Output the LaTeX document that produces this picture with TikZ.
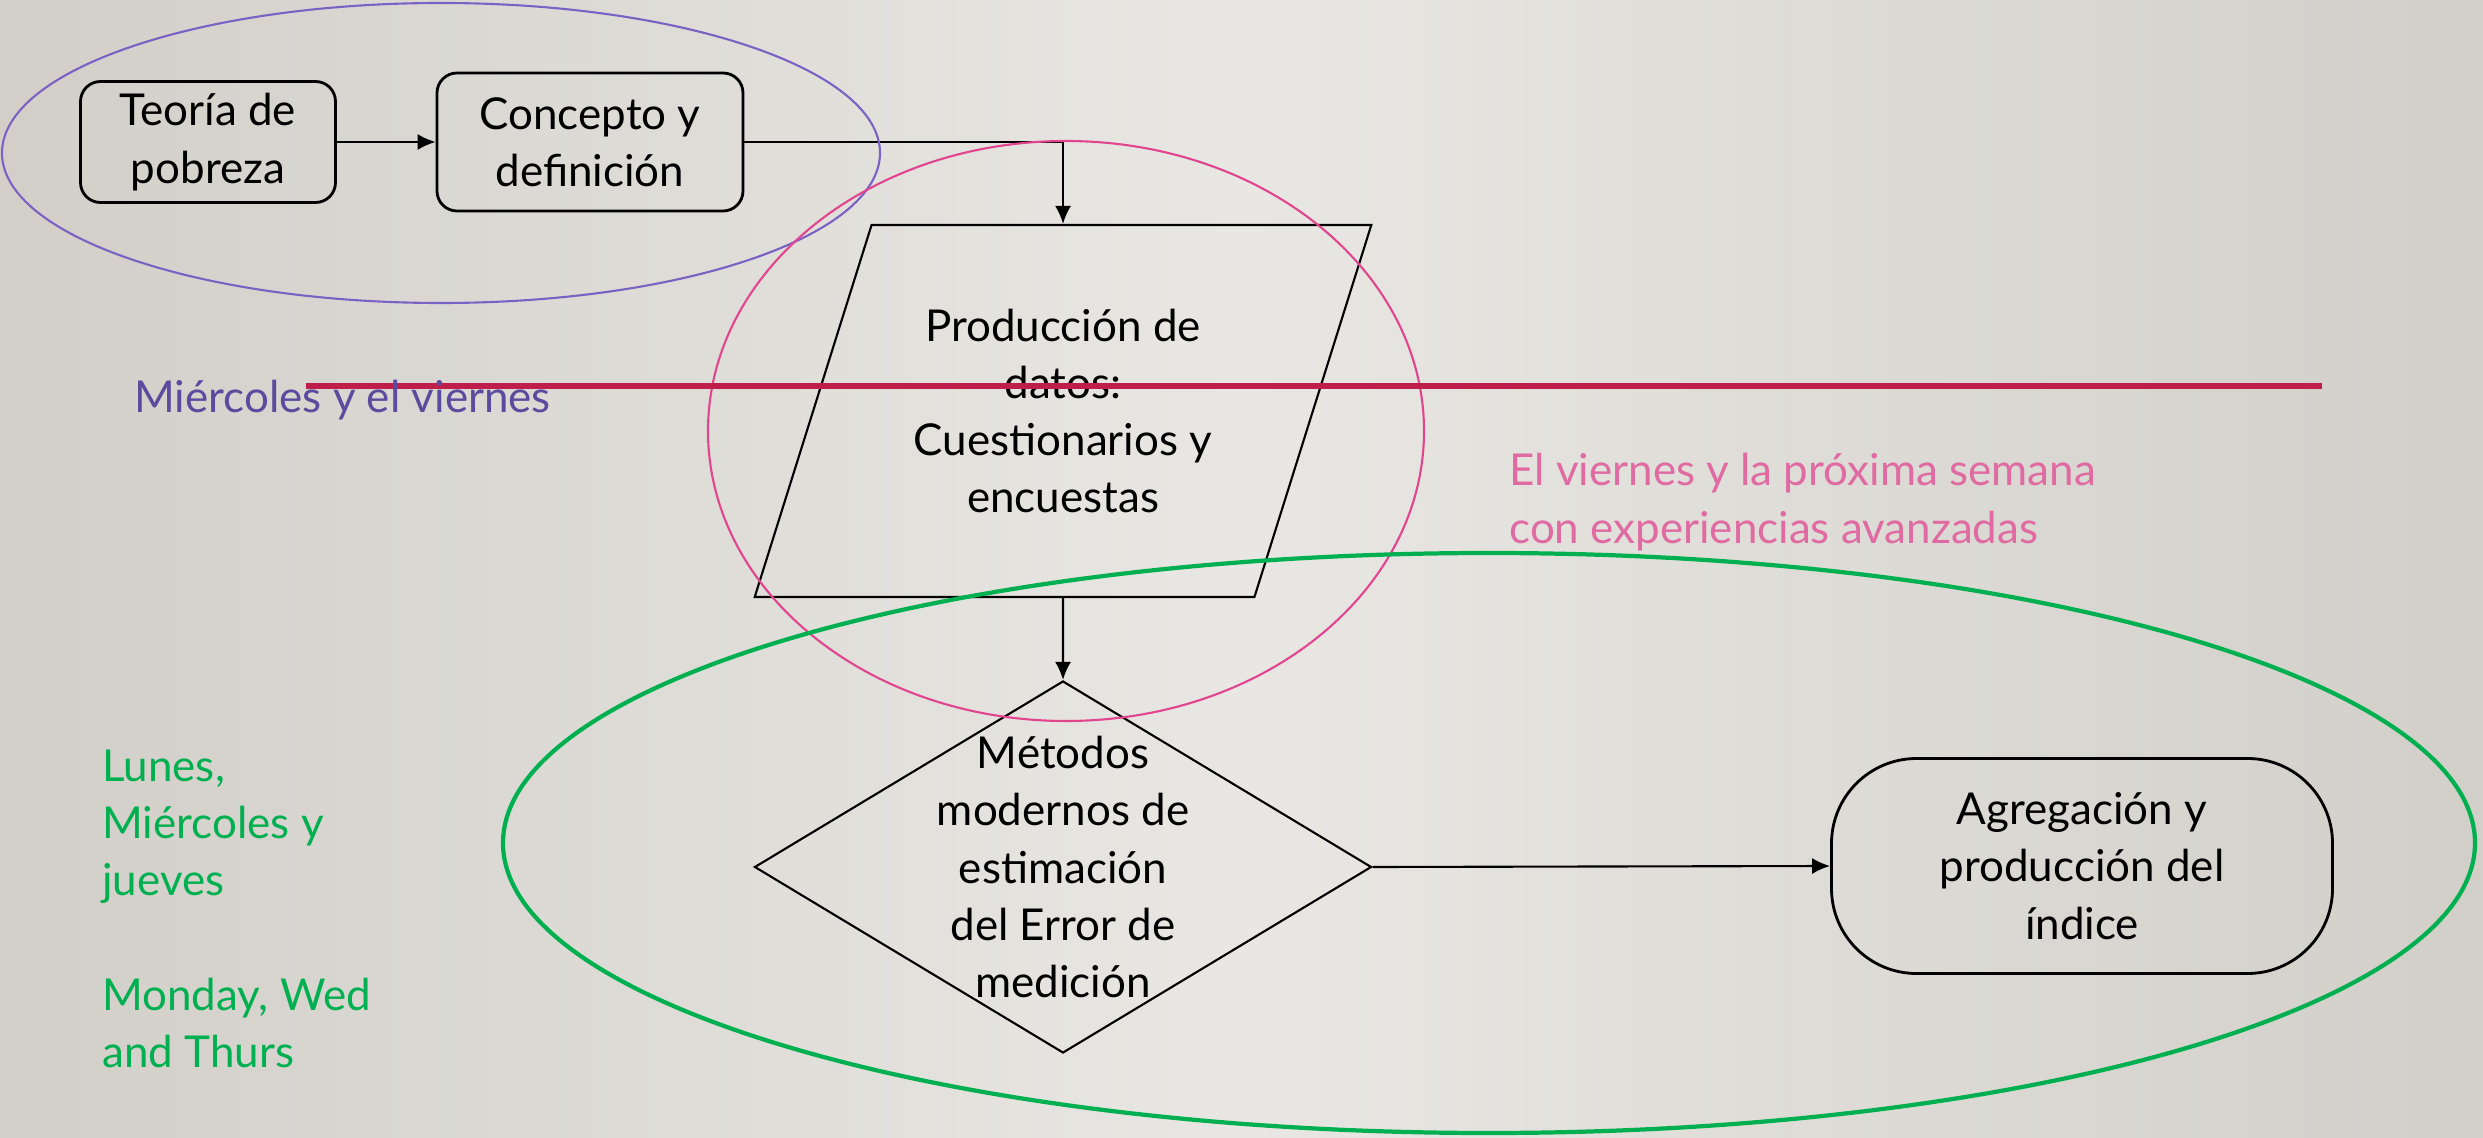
\documentclass[tikz,border=0pt]{standalone}
\usepackage{fontspec}
\setmainfont{Lato}
\usetikzlibrary{shapes.geometric,arrows.meta}

\definecolor{fondoA}{HTML}{D2CFC9}
\definecolor{fondoB}{HTML}{E9E7E3}
\definecolor{morado}{HTML}{7A62C4}
\definecolor{moradotxt}{HTML}{5B4B9E}
\definecolor{rosa}{HTML}{E2458F}
\definecolor{rosatxt}{HTML}{E06AA2}
\definecolor{verde}{HTML}{00B050}
\definecolor{carmin}{HTML}{BE1E4A}

\tikzset{
  caja/.style={draw,thick,rectangle,rounded corners=0.2cm,align=center},
  texto/.style={font=\fontsize{12.5}{16.3}\selectfont},
}

\begin{document}
\begin{tikzpicture}[>={Latex[length=1.8mm,width=1.6mm]},texto]

        \useasboundingbox (0,0) rectangle (24.83,-11.38);
        \shade[left color=fondoA,right color=fondoA,middle color=fondoB] (0,0) rectangle (24.83,-11.38);

        \node[caja,minimum height=1.21cm,minimum width=2.55cm] (teoria) at (2.08,-1.42) {Teoría de\\pobreza};
        \node[caja,minimum height=1.38cm,minimum width=3.06cm] (concepto) at (5.90,-1.42) {Concepto y\\definición};

        \node[draw,semithick,trapezium,trapezium left angle=66,trapezium right angle=114,trapezium stretches=true,
              minimum width=6.17cm,minimum height=3.72cm,inner sep=0pt,align=center] (datos) at (10.63,-4.11)
              {Producción de\\datos:\\Cuestionarios y\\encuestas};

        \node[draw,semithick,diamond,aspect=1.66,minimum width=6.17cm,minimum height=3.72cm,inner sep=0pt] (metodos) at (10.63,-8.67) {};
        \node[align=center] (metodostxt) at (metodos) {Métodos\\modernos de\\estimación\\del Error de\\medición};

        \node[draw,thick,rectangle,rounded corners=0.85cm,minimum height=2.15cm,minimum width=5.01cm,align=center] (agregacion) at (20.82,-8.66)
              {Agregación y\\producción del\\índice};

        \draw[->,semithick] (teoria) -- (concepto);
        \draw[->,semithick] (concepto.east) -| (datos.north);
        \draw[->,semithick] (datos.south) -- (metodos.north);
        \draw[->,semithick] (metodos.east) -- (agregacion.west);

        % grupos por dia
        \draw[morado,semithick] (4.41,-1.53) ellipse (4.39cm and 1.50cm);
        \draw[rosa,semithick] (10.66,-4.31) ellipse (3.58cm and 2.90cm);
        \draw[verde,line width=1.2pt] (14.89,-8.43) ellipse (9.86cm and 2.90cm);
        \draw[carmin,line width=1.9pt] (3.06,-3.86) -- (23.22,-3.86);

        \node[anchor=west,text=moradotxt] (miercoles) at (1.22,-4.00) {Miércoles y el viernes};
        \node[anchor=west,text=rosatxt,align=left] (viernes) at (14.97,-5.02) {El viernes y la próxima semana\\con experiencias avanzadas};
        \node[anchor=west,text=verde,align=left] (lunes) at (0.90,-9.09) {Lunes,\\Miércoles y\\jueves\\[16.3pt]Monday, Wed\\and Thurs};
    \end{tikzpicture}
\end{document}
